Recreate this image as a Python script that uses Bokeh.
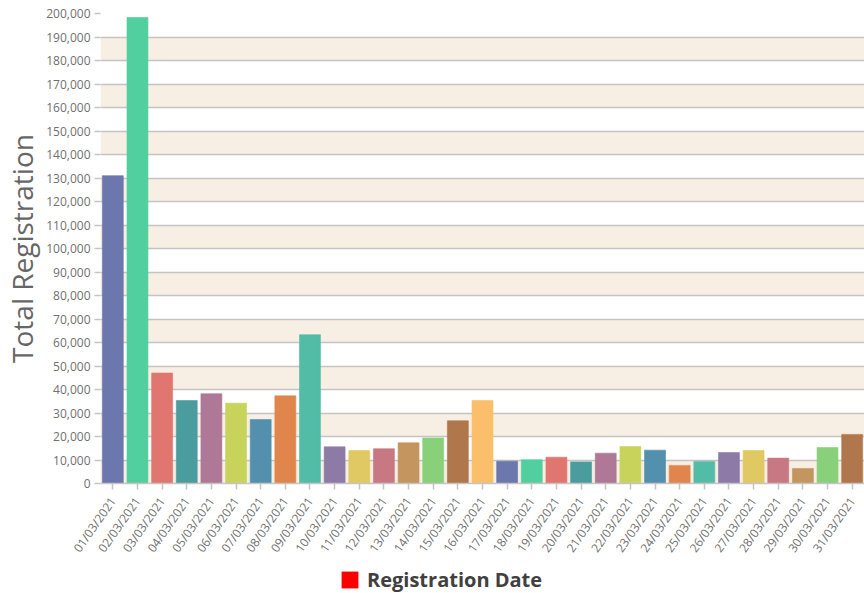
from bokeh.plotting import figure
from bokeh.layouts import column
from bokeh.models import (ColumnDataSource, FactorRange, Range1d, FixedTicker,
                          NumeralTickFormatter, Legend, LegendItem, BoxAnnotation)
from bokeh.embed import file_html
from bokeh.resources import INLINE
import math

dates = ["01/03/2021", "02/03/2021", "03/03/2021", "04/03/2021", "05/03/2021",
         "06/03/2021", "07/03/2021", "08/03/2021", "09/03/2021", "10/03/2021",
         "11/03/2021", "12/03/2021", "13/03/2021", "14/03/2021", "15/03/2021",
         "16/03/2021", "17/03/2021", "18/03/2021", "19/03/2021", "20/03/2021",
         "21/03/2021", "22/03/2021", "23/03/2021", "24/03/2021", "25/03/2021",
         "26/03/2021", "27/03/2021", "28/03/2021", "29/03/2021", "30/03/2021",
         "31/03/2021"]

registrations = [131000, 198300, 47000, 35300, 38200, 34200, 27200, 37300, 63300,
                 15600, 14000, 14800, 17300, 19400, 26700, 35300, 9500, 10100,
                 11200, 9200, 12900, 15700, 14200, 7700, 9400, 13200, 14000,
                 10800, 6400, 15300, 20900]

y_ticks = [0, 10000, 20000, 30000, 40000, 50000, 60000, 70000, 80000, 90000,
           100000, 110000, 120000, 130000, 140000, 150000, 160000, 170000,
           180000, 190000, 200000]

palette = ["#6c77ad", "#52cf9e", "#e0766f", "#4b9c9f", "#ae7896", "#c8d35c",
           "#5290ae", "#e0854b", "#52bca7", "#8d7aa7", "#e0c862", "#c87883",
           "#c4955f", "#88d07a", "#b0764c", "#fbbf6b"]

legend_label = "Registration Date"
legend_color = "#ff0000"
y_label = "Total Registration"

bar_colors = [palette[i % len(palette)] for i in range(len(dates))]

source = ColumnDataSource(data=dict(date=dates, value=registrations, color=bar_colors))

FONT = "Open Sans"
BAND = "#f7efe3"
GRID = "#c4c4c4"

p = figure(x_range=FactorRange(factors=dates, range_padding=0),
           y_range=Range1d(0, 200000),
           width=864, height=566, output_backend="svg", toolbar_location=None,
           min_border_left=100, min_border_right=0, min_border_top=13,
           min_border_bottom=83)

p.outline_line_color = None
p.background_fill_color = "white"
p.border_fill_color = "white"

# alternating shaded bands between every other pair of gridlines, starting at 0
for i in range(0, len(y_ticks) - 1, 2):
    p.add_layout(BoxAnnotation(bottom=y_ticks[i], top=y_ticks[i + 1],
                               fill_color=BAND, fill_alpha=1.0,
                               line_color=None, level="image"))

p.xgrid.grid_line_color = None
p.ygrid.ticker = FixedTicker(ticks=y_ticks)
p.ygrid.grid_line_color = GRID
p.ygrid.grid_line_width = 1.5

p.yaxis.ticker = FixedTicker(ticks=y_ticks)
p.yaxis.formatter = NumeralTickFormatter(format="0,0")
p.yaxis.axis_line_color = None
p.yaxis.major_tick_line_color = GRID
p.yaxis.major_tick_line_width = 1.5
p.yaxis.major_tick_out = 6
p.yaxis.major_tick_in = 0
p.yaxis.minor_tick_line_color = None
p.yaxis.major_label_standoff = 4
p.yaxis.major_label_text_font = FONT
p.yaxis.major_label_text_font_size = "12px"
p.yaxis.major_label_text_color = "#707070"
p.yaxis.axis_label = y_label
p.yaxis.axis_label_text_font = FONT
p.yaxis.axis_label_text_font_size = "28px"
p.yaxis.axis_label_text_font_style = "normal"
p.yaxis.axis_label_text_color = "#666666"
p.yaxis.axis_label_standoff = 2

p.xaxis.axis_line_color = GRID
p.xaxis.axis_line_width = 1.5
p.xaxis.major_tick_line_color = GRID
p.xaxis.major_tick_line_width = 1.5
p.xaxis.major_tick_out = 6
p.xaxis.major_tick_in = 0
p.xaxis.minor_tick_line_color = None
p.xaxis.major_label_orientation = math.radians(55)
p.xaxis.major_label_standoff = 9
p.xaxis.major_label_text_font = FONT
p.xaxis.major_label_text_font_size = "12px"
p.xaxis.major_label_text_color = "#707070"

p.vbar(x="date", top="value", width=0.85, source=source,
       fill_color="color", line_color="color", line_alpha=0.6)

# legend strip below the chart
lg = figure(width=864, height=27, output_backend="svg", toolbar_location=None,
            x_axis_location=None, y_axis_location=None,
            min_border_left=0, min_border_right=0, min_border_top=0,
            min_border_bottom=0)
lg.outline_line_color = None
lg.xgrid.grid_line_color = None
lg.ygrid.grid_line_color = None
legend_src = ColumnDataSource(data=dict(x=[0], top=[0]))
legend_r = lg.vbar(x="x", top="top", width=0.85, source=legend_src,
                   fill_color=legend_color, line_color=None)

legend = Legend(items=[LegendItem(label=legend_label, renderers=[legend_r])],
                location=(239, 0), orientation="horizontal",
                glyph_width=21, glyph_height=21, label_standoff=7,
                padding=0, margin=0, spacing=0,
                border_line_color=None, background_fill_alpha=0,
                label_text_font=FONT, label_text_font_size="20px",
                label_text_font_style="bold", label_text_color="#404040")
lg.add_layout(legend, "center")

layout = column(p, lg, spacing=0)

open("out.html", "w").write(file_html(layout, INLINE))
